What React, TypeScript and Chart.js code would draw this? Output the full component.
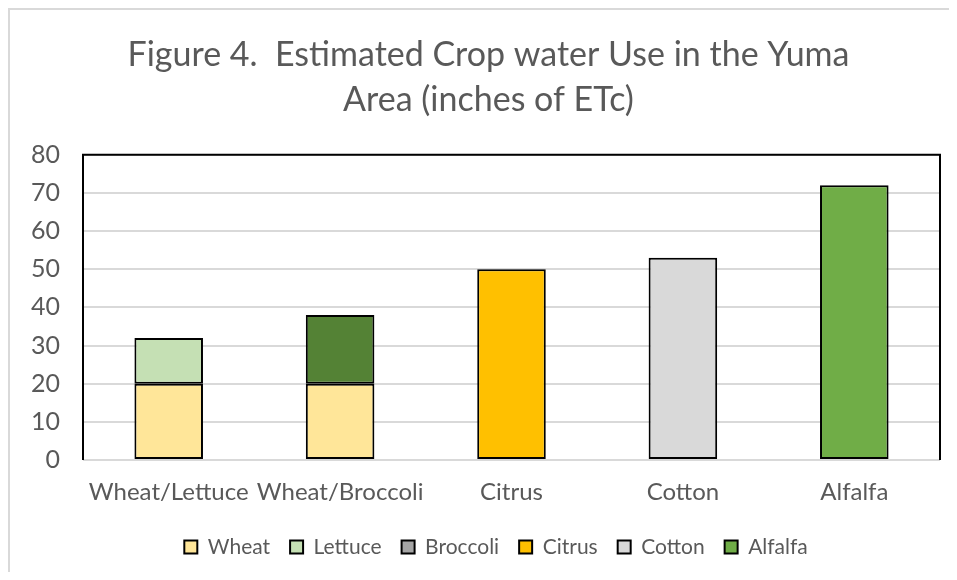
import React, { useEffect, useRef } from "react";
import { Chart, registerables } from "chart.js";

Chart.register(...registerables);

const categories = ["Wheat/Lettuce", "Wheat/Broccoli", "Citrus", "Cotton", "Alfalfa"];
const seriesNames = ["Wheat", "Lettuce", "Broccoli", "Citrus", "Cotton", "Alfalfa"];
const wheat = [20, 20, null, null, null];
const lettuce = [12, null, null, null, null];
const broccoli = [null, 18, null, null, null];
const citrus = [null, null, 50, null, null];
const cotton = [null, null, null, 53, null];
const alfalfa = [null, null, null, null, 72];
const barColors = ["#FFE699", "#C5E0B4", "#548235", "#FFC000", "#D9D9D9", "#70AD47"];
const legendColors = ["#FFE699", "#C5E0B4", "#A5A5A5", "#FFC000", "#D9D9D9", "#70AD47"];
const titleLines = ["Figure 4.  Estimated Crop water Use in the Yuma", "Area (inches of ETc)"];
const yMin = 0;
const yMax = 80;
const yStep = 10;

const FONT = "Lato, 'Liberation Sans', sans-serif";
const TEXT = "#595959";

const frame = {
  id: "frame",
  afterLayout(chart: any) {
    const lg = chart.legend;
    if (lg) {
      lg.left += 42;
    }
    const tb = chart.titleBlock;
    if (tb) {
      tb.left += 27;
    }
  },
  beforeDatasetsDraw(chart: any) {
    const { ctx, chartArea: a } = chart;
    ctx.save();
    ctx.lineWidth = 2;
    ctx.strokeStyle = "#D9D9D9";
    ctx.beginPath();
    ctx.moveTo(a.left, a.bottom);
    ctx.lineTo(a.right, a.bottom);
    ctx.stroke();
    ctx.strokeStyle = "#000000";
    ctx.beginPath();
    ctx.moveTo(a.left, a.bottom);
    ctx.lineTo(a.left, a.top);
    ctx.lineTo(a.right, a.top);
    ctx.lineTo(a.right, a.bottom);
    ctx.stroke();
    ctx.restore();
  },
};

export default function App() {
  const ref = useRef<HTMLCanvasElement>(null);
  useEffect(() => {
    const series = [wheat, lettuce, broccoli, citrus, cotton, alfalfa];
    const chart = new Chart(ref.current!, {
      type: "bar",
      data: {
        labels: categories,
        datasets: series.map((d, i) => ({
          label: seriesNames[i],
          data: d,
          backgroundColor: barColors[i],
          borderColor: "#000000",
          borderWidth: 2,
          borderSkipped: false,
          categoryPercentage: 1,
          barPercentage: 0.4,
        })),
      },
      options: {
        animation: false,
        responsive: false,
        maintainAspectRatio: false,
        layout: { padding: { left: 0, right: 9, top: 0, bottom: 4.5 } },
        plugins: {
          tooltip: { enabled: false },
          title: {
            display: true,
            text: titleLines,
            color: TEXT,
            font: { family: FONT, size: 34, weight: "normal", lineHeight: 1.32 },
            padding: { top: 22.5, bottom: 32.5 },
          },
          legend: {
            position: "bottom",
            labels: {
              color: TEXT,
              font: { family: FONT, size: 21 },
              boxWidth: 13,
              boxHeight: 13,
              padding: 20,
              generateLabels: () =>
                seriesNames.map((n, i) => ({
                  text: n,
                  fillStyle: legendColors[i],
                  strokeStyle: "#000000",
                  lineWidth: 2,
                  fontColor: TEXT,
                  datasetIndex: i,
                  hidden: false,
                })),
            },
          },
        },
        scales: {
          x: {
            stacked: true,
            grid: { display: false, drawTicks: false },
            border: { display: false },
            ticks: {
              color: TEXT,
              font: { family: FONT, size: 24 },
              padding: 18,
              autoSkip: false,
              maxRotation: 0,
              minRotation: 0,
            },
            afterFit: (s: any) => {
              s.height = 56.5;
            },
          },
          y: {
            stacked: true,
            min: yMin,
            max: yMax,
            grid: { color: "#D9D9D9", lineWidth: 2, drawTicks: false },
            border: { display: false },
            ticks: {
              stepSize: yStep,
              color: TEXT,
              font: { family: FONT, size: 25 },
              padding: 23,
            },
            afterFit: (s: any) => {
              s.width = 73;
            },
          },
        },
      },
      plugins: [frame],
    });
    return () => chart.destroy();
  }, []);
  return (
    <div style={{ borderLeft: "2px solid #D9D9D9", borderTop: "2px solid #D9D9D9", width: 939, height: 562 }}>
      <canvas ref={ref} width={939} height={562} style={{ display: "block" }} />
    </div>
  );
}
